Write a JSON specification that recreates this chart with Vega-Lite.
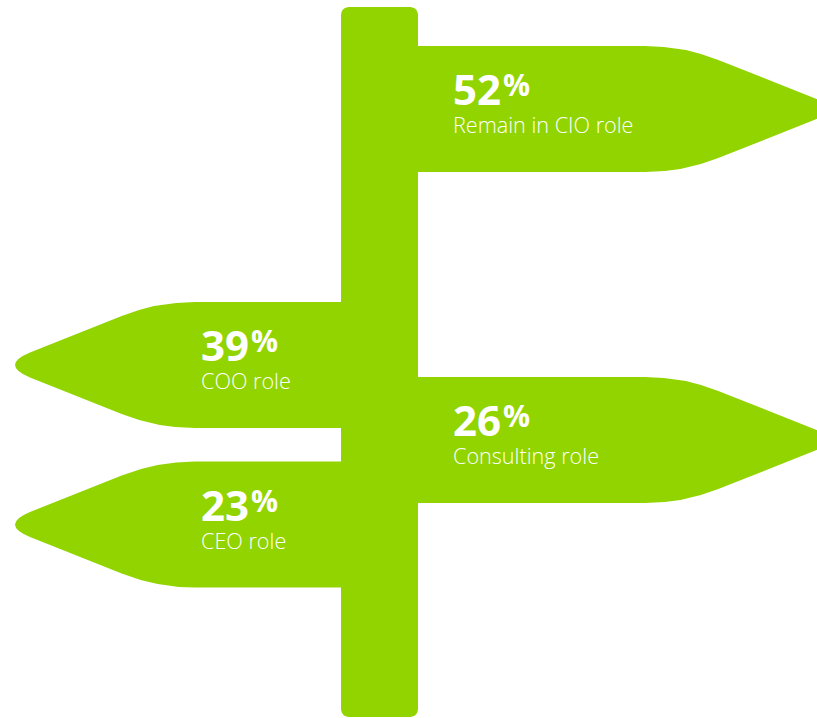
{
  "$schema": "https://vega.github.io/schema/vega-lite/v6.json",
  "width": 817,
  "height": 718,
  "autosize": {"type": "none"},
  "padding": 0,
  "background": "white",
  "config": {"view": {"stroke": null}},
  "data": {"values": [
    {"pct": 52, "label": "Remain in CIO role", "side": "right", "y": 109},
    {"pct": 39, "label": "COO role", "side": "left", "y": 365},
    {"pct": 26, "label": "Consulting role", "side": "right", "y": 440},
    {"pct": 23, "label": "CEO role", "side": "left", "y": 524.5}
  ]},
  "layer": [
    {
      "data": {"values": [{"part": "post"}]},
      "mark": {"type": "rect", "color": "#92D400", "cornerRadius": 8},
      "encoding": {
        "x": {"datum": 341, "type": "quantitative", "scale": {"domain": [0, 817], "nice": false, "zero": false}, "axis": null},
        "x2": {"datum": 418},
        "y": {"datum": 7, "type": "quantitative", "scale": {"domain": [0, 718], "nice": false, "zero": false, "reverse": true}, "axis": null},
        "y2": {"datum": 717}
      }
    },
    {
      "mark": {"type": "point", "filled": true, "opacity": 1, "color": "#92D400", "strokeWidth": 0},
      "encoding": {
        "x": {"datum": 380, "type": "quantitative", "scale": {"domain": [0, 817], "nice": false, "zero": false}, "axis": null},
        "y": {"field": "y", "type": "quantitative", "scale": {"domain": [0, 718], "nice": false, "zero": false, "reverse": true}, "axis": null},
        "shape": {
          "field": "side",
          "type": "nominal",
          "scale": {
            "domain": ["left", "right"],
            "range": [
              "M 0.2 -0.63 L -1.85 -0.63 Q -2.23 -0.63 -2.583 -0.49 L -3.50 -0.125 Q -3.80 0 -3.50 0.125 L -2.583 0.49 Q -2.23 0.63 -1.85 0.63 L 0.2 0.63 Z",
              "M -0.2 -0.63 L 2.65 -0.63 Q 3.03 -0.63 3.383 -0.49 L 4.322 -0.118 Q 4.62 0 4.322 0.118 L 3.383 0.49 Q 3.03 0.63 2.65 0.63 L -0.2 0.63 Z"
            ]
          },
          "legend": null
        },
        "size": {"value": 40000}
      }
    },
    {
      "transform": [{"filter": "datum.side == 'right'"}],
      "encoding": {
        "x": {"datum": 453, "type": "quantitative", "scale": {"domain": [0, 817], "nice": false, "zero": false}, "axis": null},
        "y": {"field": "y", "type": "quantitative", "scale": {"domain": [0, 718], "nice": false, "zero": false, "reverse": true}, "axis": null}
      },
      "layer": [
        {"mark": {"type": "text", "align": "left", "baseline": "alphabetic", "font": "Open Sans", "fontWeight": "bold", "fontSize": 42, "color": "white", "dy": -4}, "encoding": {"text": {"field": "pct"}}},
        {"mark": {"type": "text", "align": "left", "baseline": "alphabetic", "font": "Open Sans", "fontWeight": "bold", "fontSize": 30, "color": "white", "dy": -13, "dx": 50, "text": "%"}},
        {"mark": {"type": "text", "align": "left", "baseline": "alphabetic", "font": "Open Sans", "fontWeight": 300, "fontSize": 21.6, "color": "white", "dy": 24}, "encoding": {"text": {"field": "label"}}}
      ]
    },
    {
      "transform": [{"filter": "datum.side == 'left'"}],
      "encoding": {
        "x": {"datum": 201, "type": "quantitative", "scale": {"domain": [0, 817], "nice": false, "zero": false}, "axis": null},
        "y": {"field": "y", "type": "quantitative", "scale": {"domain": [0, 718], "nice": false, "zero": false, "reverse": true}, "axis": null}
      },
      "layer": [
        {"mark": {"type": "text", "align": "left", "baseline": "alphabetic", "font": "Open Sans", "fontWeight": "bold", "fontSize": 42, "color": "white", "dy": -4}, "encoding": {"text": {"field": "pct"}}},
        {"mark": {"type": "text", "align": "left", "baseline": "alphabetic", "font": "Open Sans", "fontWeight": "bold", "fontSize": 30, "color": "white", "dy": -13, "dx": 50, "text": "%"}},
        {"mark": {"type": "text", "align": "left", "baseline": "alphabetic", "font": "Open Sans", "fontWeight": 300, "fontSize": 21.6, "color": "white", "dy": 24}, "encoding": {"text": {"field": "label"}}}
      ]
    }
  ]
}
